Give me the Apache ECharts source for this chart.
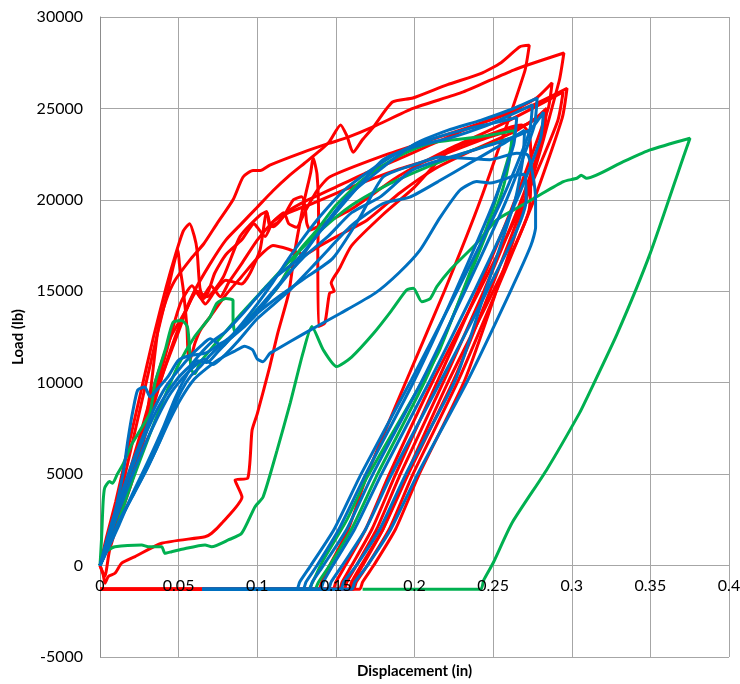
<!DOCTYPE html>
<html>
<head>
<meta charset="utf-8">
<script src="https://cdn.jsdelivr.net/npm/echarts@6/dist/echarts.min.js"></script>
<style>html,body{margin:0;padding:0;background:#fff;}#c{width:740px;height:684px;}</style>
</head>
<body>
<div id="c"></div>
<script>
// Axis ticks
const xTicks = { min: 0, max: 0.4, step: 0.05 };
const yTicks = { min: -5000, max: 30000, step: 5000 };
const xTitle = 'Displacement (in)';
const yTitle = 'Load (lb)';

// Red specimens [displacement, load]
const red1 = [[0,0],[0.003,-600],[0.006,800],[0.012,2500],[0.02,4500],[0.03,7500],[0.04,10500],[0.05,13000],[0.06,15000],[0.07,16500],[0.08,17800],[0.09,18700],[0.1,19600],[0.11,20500],[0.12,21300],[0.13,22000],[0.14,22700],[0.146,23200],[0.153,24100],[0.157,23500],[0.161,22600],[0.167,23300],[0.174,24000],[0.186,25350],[0.199,25570],[0.221,26300],[0.242,26900],[0.255,27500],[0.267,28370],[0.273,28450],[0.27,27000],[0.242,20000],[0.219,15000],[0.195,10150],[0.17,5000],[0.158,2000],[0.146,0],[0.141,-900],[0.139,-1300],[0,-1300]];
const red2 = [[0,0],[0.005,1000],[0.012,2800],[0.02,4800],[0.0267,6870],[0.032,9500],[0.0369,12900],[0.042,14500],[0.0477,15600],[0.058,16800],[0.066,17600],[0.0744,18700],[0.0846,20000],[0.091,21250],[0.0973,21600],[0.102,21600],[0.108,21900],[0.129,22600],[0.146,23100],[0.157,23400],[0.174,24000],[0.199,25000],[0.231,25900],[0.263,27100],[0.295,28030],[0.292,26500],[0.271,20000],[0.252,15000],[0.232,10150],[0.203,5000],[0.188,2000],[0.174,0],[0.167,-900],[0.165,-1300],[0,-1300]];
const red3 = [[0,0],[0.005,1200],[0.012,3000],[0.02,5000],[0.03,7800],[0.04,10500],[0.05,12800],[0.056,14200],[0.062,15000],[0.068,14700],[0.0785,15800],[0.089,17990],[0.1018,19170],[0.106,19350],[0.108,18530],[0.1124,18720],[0.12,19400],[0.13,19900],[0.14,20300],[0.15,20700],[0.17,21500],[0.189,22200],[0.21,23000],[0.231,23800],[0.263,24900],[0.278,25600],[0.2875,26400],[0.285,25000],[0.264,20000],[0.24,15000],[0.215,10150],[0.188,5000],[0.173,2000],[0.16,0],[0.154,-900],[0.152,-1300],[0,-1300]];
const red4 = [[0,0],[0.004,1000],[0.01,2500],[0.02,5000],[0.03,8000],[0.04,11000],[0.048,13500],[0.052,14500],[0.0585,15300],[0.0645,14600],[0.0705,15300],[0.0765,14700],[0.082,15500],[0.09,16500],[0.1,17800],[0.11,18800],[0.117,19300],[0.12,18700],[0.125,18500],[0.13,19300],[0.138,20500],[0.146,21250],[0.178,22350],[0.21,23270],[0.242,24200],[0.273,25100],[0.297,26100],[0.294,24500],[0.276,20000],[0.252,15000],[0.228,10150],[0.199,5000],[0.184,2000],[0.17,0],[0.163,-900],[0.161,-1300],[0,-1300]];
const red5 = [[0,0],[0.002,-500],[0.0032,-970],[0.0053,-600],[0.0095,-420],[0.0138,130],[0.0223,490],[0.0392,1220],[0.0668,1580],[0.071,1770],[0.0774,2310],[0.0903,3750],[0.0859,4680],[0.094,4790],[0.0967,7400],[0.1,8300],[0.108,10900],[0.113,12700],[0.12,14900],[0.124,17250],[0.13,20000],[0.134,21500],[0.1355,22300],[0.138,21400],[0.139,19000],[0.1385,17260],[0.139,13070],[0.143,13270],[0.146,14900],[0.149,15000],[0.147,15450],[0.152,16200],[0.16,17500],[0.18,19200],[0.2,20700],[0.222,22700],[0.244,23450],[0.262,24000],[0.268,24100],[0.273,23600],[0.274,22000],[0.273,19500],[0.25,15000],[0.222,10150],[0.195,5000],[0.18,2000],[0.167,0],[0.161,-900],[0.159,-1300],[0,-1300]];
const red6 = [[0,0],[0.004,1500],[0.01,3500],[0.018,6500],[0.026,9500],[0.034,12500],[0.042,15200],[0.048,17000],[0.053,18300],[0.057,18700],[0.06,18000],[0.0617,17250],[0.0635,15200],[0.066,14600],[0.069,15000],[0.073,16000],[0.08,17000],[0.09,17800],[0.098,18700],[0.1,18500],[0.105,18000],[0.11,18800],[0.12,19300],[0.135,19800],[0.157,20600],[0.189,21650],[0.21,22200],[0.242,23270],[0.273,24200],[0.284,25000],[0.282,23500],[0.268,20000],[0.244,15000],[0.219,10150],[0.191,5000],[0.176,2000],[0.163,0],[0.157,-900],[0.155,-1300],[0,-1300]];
const red7 = [[0,0],[0.005,1200],[0.012,3500],[0.02,6500],[0.028,9500],[0.036,12500],[0.043,15000],[0.047,16500],[0.0496,17250],[0.0505,16500],[0.0528,15200],[0.0553,13000],[0.056,11600],[0.0572,11240],[0.0604,12170],[0.064,12900],[0.07,13600],[0.08,14800],[0.09,15800],[0.1,16800],[0.11,17500],[0.12,17300],[0.13,17000],[0.14,17500],[0.155,18200],[0.17,18900],[0.191,20400],[0.212,21650],[0.233,22550],[0.265,23800],[0.283,24800],[0.281,23300],[0.27,20000],[0.248,15000],[0.225,10150],[0.196,5000],[0.18,2000],[0.166,0],[0.16,-900],[0.158,-1300],[0,-1300]];
const red8 = [[0,0],[0.006,1500],[0.015,4000],[0.025,7000],[0.035,10000],[0.045,12500],[0.055,14000],[0.061,15000],[0.067,14300],[0.073,15000],[0.08,15600],[0.09,15400],[0.0954,15990],[0.1018,17280],[0.106,19350],[0.108,18720],[0.1103,18530],[0.1166,19080],[0.123,20000],[0.1283,20170],[0.1304,19630],[0.1315,18720],[0.1336,18350],[0.14,18600],[0.16,19500],[0.19,21300],[0.22,22700],[0.25,23900],[0.275,25000],[0.2945,25900],[0.291,24300],[0.27,20000],[0.241,15000],[0.212,10150],[0.184,5000],[0.169,2000],[0.156,0],[0.15,-900],[0.148,-1300],[0,-1300]];

// Green specimens
const green1 = [[0,0],[0.002,600],[0.0053,850],[0.0095,1030],[0.0265,1130],[0.0307,1030],[0.0392,1030],[0.0413,670],[0.0456,760],[0.052,890],[0.0668,1130],[0.071,1030],[0.0816,1400],[0.0901,1770],[0.0986,3220],[0.1037,3750],[0.1126,6300],[0.121,8900],[0.129,11600],[0.1347,13070],[0.142,11790],[0.1505,10880],[0.16,11400],[0.174,12700],[0.185,13900],[0.195,15070],[0.1993,15160],[0.2046,14430],[0.21,14600],[0.2142,15250],[0.2226,16170],[0.2396,17630],[0.2523,18900],[0.265,19540],[0.2777,20170],[0.2947,21000],[0.3032,21180],[0.306,21350],[0.3095,21180],[0.3328,22090],[0.3498,22730],[0.3752,23370],[0.371,22350],[0.35,17100],[0.329,12700],[0.31,9230],[0.305,8350],[0.284,5230],[0.262,2330],[0.25,140],[0.244,-800],[0.242,-1300],[0.167,-1300]];
const green2 = [[0,0],[0.001,1500],[0.002,3500],[0.003,4250],[0.006,4600],[0.008,4500],[0.011,5000],[0.015,5600],[0.02,6600],[0.0255,7400],[0.0318,8350],[0.035,10000],[0.0415,11800],[0.0464,13300],[0.052,13400],[0.0556,13050],[0.057,11800],[0.058,10700],[0.0604,10500],[0.0636,11100],[0.075,12300],[0.09,13800],[0.105,15200],[0.12,16600],[0.14,18300],[0.16,19700],[0.18,20700],[0.2,21500],[0.22,22200],[0.24,22800],[0.262,23400],[0.26,22000],[0.254,20000],[0.231,15000],[0.207,10150],[0.1765,5000],[0.16,2000],[0.146,0],[0.139,-900],[0.137,-1300]];
const green3 = [[0,0],[0.004,800],[0.01,2000],[0.02,4500],[0.03,6800],[0.04,9000],[0.05,11000],[0.06,12500],[0.07,13600],[0.0743,14350],[0.08,14600],[0.0846,14500],[0.0846,13600],[0.0858,12800],[0.092,13300],[0.1,14000],[0.112,15100],[0.127,17250],[0.138,18350],[0.15,19700],[0.167,21100],[0.189,22350],[0.21,23100],[0.242,23450],[0.264,23800],[0.261,22700],[0.246,18500],[0.216,11800],[0.2055,10150],[0.17,4850],[0.157,2500],[0.142,300],[0.135,-950],[0.133,-1300]];

// Blue specimens
const blue1 = [[0,0],[0.003,800],[0.007,2000],[0.011,3500],[0.015,5200],[0.0178,6900],[0.021,8500],[0.024,9600],[0.0285,9770],[0.0318,9230],[0.036,9600],[0.043,10300],[0.05,11240],[0.058,11500],[0.067,11620],[0.076,12100],[0.084,12500],[0.098,13600],[0.11,14900],[0.125,16500],[0.14,18300],[0.157,20150],[0.178,21650],[0.199,23000],[0.221,23800],[0.242,24350],[0.26,24900],[0.278,25570],[0.276,24000],[0.2585,20000],[0.232,15000],[0.205,10150],[0.1735,5000],[0.157,2000],[0.142,0],[0.135,-900],[0.133,-1300],[0.065,-1300]];
const blue2 = [[0,0],[0.004,1000],[0.01,2800],[0.018,4800],[0.028,7000],[0.038,8800],[0.05,10300],[0.058,11000],[0.065,11700],[0.072,12300],[0.08,12800],[0.09,13700],[0.1,14700],[0.112,15800],[0.125,16700],[0.146,18900],[0.165,20800],[0.18,22200],[0.2,22900],[0.223,23400],[0.244,24000],[0.26,24600],[0.275,25200],[0.273,23700],[0.2555,20000],[0.227,15000],[0.198,10150],[0.166,5000],[0.149,2000],[0.134,0],[0.127,-900],[0.125,-1300],[0.065,-1300]];
const blue3 = [[0,0],[0.005,900],[0.012,2200],[0.02,3800],[0.03,5600],[0.04,7500],[0.048,9200],[0.055,10400],[0.062,11200],[0.068,11100],[0.075,11700],[0.085,12600],[0.095,13500],[0.105,14500],[0.115,15500],[0.13,16900],[0.145,18000],[0.16,19300],[0.178,20150],[0.199,21650],[0.231,22550],[0.252,23100],[0.273,23800],[0.282,24800],[0.28,23300],[0.265,20000],[0.238,15000],[0.21,10150],[0.179,5000],[0.162,2000],[0.148,0],[0.142,-900],[0.14,-1300],[0.065,-1300]];
const blue4 = [[0,0],[0.006,1200],[0.014,2700],[0.022,4000],[0.03,5300],[0.038,6800],[0.045,8300],[0.052,9600],[0.058,10400],[0.064,10900],[0.07,11500],[0.08,12300],[0.09,13000],[0.1,13800],[0.115,14800],[0.13,15700],[0.148,16800],[0.165,19000],[0.18,21250],[0.199,21900],[0.216,22350],[0.248,22200],[0.265,22550],[0.272,22450],[0.275,21500],[0.277,20000],[0.277,18500],[0.274,17500],[0.261,15000],[0.234,10150],[0.202,5000],[0.185,2000],[0.17,0],[0.162,-900],[0.16,-1300],[0.065,-1300]];
const blue5 = [[0,0],[0.005,1000],[0.012,2400],[0.02,3700],[0.028,5000],[0.036,6400],[0.044,7900],[0.052,9200],[0.06,10200],[0.068,10800],[0.076,11300],[0.085,11700],[0.092,12000],[0.097,11800],[0.1,11300],[0.1036,11150],[0.108,11600],[0.112,11800],[0.13,12700],[0.153,13800],[0.175,14900],[0.19,16000],[0.2035,17250],[0.216,19000],[0.229,20540],[0.2396,21000],[0.248,20920],[0.265,21360],[0.27,21400],[0.271,20000],[0.246,15000],[0.217,10150],[0.1855,5000],[0.169,2000],[0.154,0],[0.147,-900],[0.145,-1300],[0.065,-1300]];
const blue6 = [[0,0],[0.003,1000],[0.008,2500],[0.014,4000],[0.02,5500],[0.027,7000],[0.034,8500],[0.042,9800],[0.05,10700],[0.058,11500],[0.064,12000],[0.07,12400],[0.078,12000],[0.083,12500],[0.09,13200],[0.1,14300],[0.11,15500],[0.12,16800],[0.13,18000],[0.14,19100],[0.155,20500],[0.17,21500],[0.19,22600],[0.21,23300],[0.23,23800],[0.25,24200],[0.265,24500],[0.263,23000],[0.251,20000],[0.226,15000],[0.2,10150],[0.169,5000],[0.152,2000],[0.138,0],[0.131,-900],[0.129,-1300],[0.065,-1300]];
const blue7 = [[0,0],[0.005,1300],[0.012,3000],[0.02,4800],[0.028,6500],[0.036,8000],[0.044,9300],[0.052,10200],[0.06,10900],[0.066,11300],[0.072,11000],[0.078,11400],[0.088,12300],[0.1,13500],[0.12,15000],[0.14,16800],[0.16,18600],[0.18,19800],[0.197,20150],[0.215,21000],[0.235,22000],[0.255,23000],[0.27,23800],[0.269,22300],[0.264,20000],[0.245,15000],[0.226,10150],[0.1945,5000],[0.178,2000],[0.163,0],[0.155,-900],[0.153,-1300],[0.065,-1300]];

const RED = '#FF0000', GREEN = '#00B050', BLUE = '#0070C0';
const groups = [
  { color: RED, curves: [red1, red2, red3, red4, red5, red6, red7, red8] },
  { color: GREEN, curves: [green1, green2, green3] },
  { color: BLUE, curves: [blue1, blue2, blue3, blue4, blue5, blue6, blue7] }
];

const series = [];
groups.forEach(g => g.curves.forEach(c => series.push({
  type: 'line', data: c, xAxisIndex: 0, yAxisIndex: 0,
  showSymbol: false, symbol: 'none', smooth: 0.2,
  lineStyle: { color: g.color, width: 3 }, itemStyle: { color: g.color },
  silent: true, z: 2
})));

// grid geometry (pixels) and where y = 0 falls inside it
const GRID = { left: 100, right: 11, top: 17, bottom: 27 };
const plotH = 684 - GRID.top - GRID.bottom;
const zeroShift = plotH * (0 - yTicks.min) / (yTicks.max - yTicks.min);

const FONT = 'Lato';
const chart = echarts.init(document.getElementById('c'), null, { renderer: 'canvas' });
chart.setOption({
  animation: false,
  backgroundColor: '#ffffff',
  grid: Object.assign({ containLabel: false, outerBoundsMode: 'none' }, GRID),
  xAxis: [{
    // grid lines + axis line at y = 0 (drawn below the curves)
    type: 'value', min: xTicks.min, max: xTicks.max, interval: xTicks.step,
    position: 'bottom', offset: -zeroShift, z: 0,
    name: xTitle, nameLocation: 'middle', nameGap: 98,
    nameTextStyle: { fontFamily: FONT, fontWeight: 'bold', fontSize: 15, color: '#000' },
    axisLine: { show: true, onZero: false, lineStyle: { color: '#A6A6A6', width: 1 } },
    axisTick: { show: false },
    axisLabel: { show: false },
    splitLine: { show: true, lineStyle: { color: '#A6A6A6', width: 1 } }
  }, {
    // tick labels drawn above the curves, as in the reference
    type: 'value', min: xTicks.min, max: xTicks.max, interval: xTicks.step,
    position: 'bottom', offset: -zeroShift, z: 10,
    axisLine: { show: false, onZero: false },
    axisTick: { show: false },
    axisLabel: { fontFamily: FONT, fontSize: 16, color: '#000', margin: 12, formatter: v => String(v) },
    splitLine: { show: false }
  }],
  yAxis: {
    type: 'value', min: yTicks.min, max: yTicks.max, interval: yTicks.step,
    name: yTitle, nameLocation: 'middle', nameGap: 73, nameRotate: 90,
    nameTextStyle: { fontFamily: FONT, fontWeight: 'bold', fontSize: 15, color: '#000' },
    axisLine: { show: true, onZero: false, lineStyle: { color: '#8C8C8C', width: 1 } },
    axisTick: { show: false },
    axisLabel: { fontFamily: FONT, fontSize: 16, color: '#000', margin: 17, formatter: v => String(v) },
    splitLine: { show: true, lineStyle: { color: '#A6A6A6', width: 1 } }
  },
  series: series
});
</script>
</body>
</html>
